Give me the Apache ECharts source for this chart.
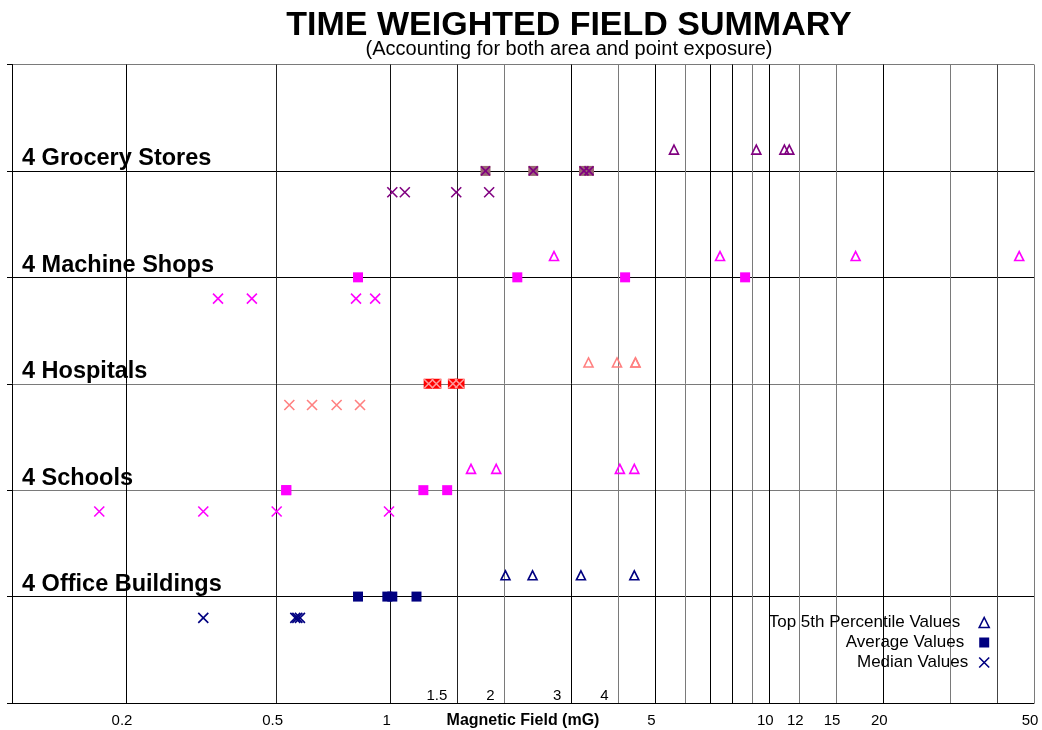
<!DOCTYPE html>
<html>
<head>
<meta charset="utf-8">
<script src="https://cdn.jsdelivr.net/npm/echarts@6/dist/echarts.min.js"></script>
<style>html,body{margin:0;padding:0;background:#fff}#c{width:1042px;height:730px}</style>
</head>
<body>
<div id="c"></div>
<script>
// ---- data ----
const groupNames = ['4 Office Buildings', '4 Schools', '4 Hospitals', '4 Machine Shops', '4 Grocery Stores'];
const top5Office = [2.01, 2.37, 3.18, 4.40];
const top5Schools = [1.63, 1.90, 4.03, 4.40];
const top5Hospitals = [3.33, 3.96, 4.43, 4.43];
const top5Machine = [2.70, 7.41, 16.9, 45.7];
const top5Grocery = [5.60, 9.24, 10.96, 11.29];

const avgOffice = [0.82, 0.98, 1.01, 1.17];
const avgSchools = [0.53, 0.53, 1.22, 1.41];
const avgHospitals = [1.26, 1.32, 1.46, 1.52];
const avgMachine = [0.82, 2.16, 4.16, 8.63];
const avgGrocery = [1.78, 2.38, 3.24, 3.34];

const medOffice = [0.32, 0.56, 0.567, 0.576];
const medSchools = [0.17, 0.32, 0.50, 0.99];
const medHospitals = [0.54, 0.62, 0.72, 0.83];
const medMachine = [0.35, 0.43, 0.81, 0.91];
const medGrocery = [1.01, 1.09, 1.49, 1.82];

const gridLinesX = [0.2, 0.5, 1, 1.5, 2, 3, 4, 5, 6, 7, 8, 9, 10, 12, 15, 20, 30, 40, 50];
const tickLabelsBelow = [0.2, 0.5, 1, 5, 10, 12, 15, 20, 50];
const tickLabelsInside = [1.5, 2, 3, 4];

// ---- styles ----
const top5Groups = [top5Office, top5Schools, top5Hospitals, top5Machine, top5Grocery];
const avgGroups = [avgOffice, avgSchools, avgHospitals, avgMachine, avgGrocery];
const medGroups = [medOffice, medSchools, medHospitals, medMachine, medGrocery];
const triColors = ['#000080', '#FF00FF', '#FF8080', '#FF00FF', '#800080'];
const avgColors = ['#000080', '#FF00FF', '#FF0000', '#FF00FF', '#9A6672'];
const avgOverlay = [null, null, '#FF9A9A', null, '#800080'];
const medColors = ['#000080', '#FF00FF', '#FF8080', '#FF00FF', '#800080'];
const G = '#7a7a7a', K = '#000000';
const gridLineColors = [K, '#222', '#111', '#222', G, K, G, K, G, K, K, G, K, G, G, K, G, '#444', G];
const ySplitColors = [K, K, G, G, K, K, G];
const FONT = '"Liberation Sans", Arial, sans-serif';
const XPATH = 'path://M0,0L10,10M10,0L0,10';

const top5Data = [], avgData = [], avgXData = [], medData = [];
top5Groups.forEach((arr, i) => arr.forEach(v => top5Data.push({value: [v, i + 1.2], itemStyle: {borderColor: triColors[i]}})));
avgGroups.forEach((arr, i) => arr.forEach(v => {
  avgData.push({value: [v, i + 1], itemStyle: {color: avgColors[i]}});
  if (avgOverlay[i]) avgXData.push({value: [v, i + 1], itemStyle: {borderColor: avgOverlay[i]}});
}));
medGroups.forEach((arr, i) => arr.forEach(v => medData.push({value: [v, i + 0.8], itemStyle: {borderColor: medColors[i]}})));

const chart = echarts.init(document.getElementById('c'), null, {renderer: 'canvas'});
chart.setOption({
  animation: false,
  backgroundColor: '#fff',
  textStyle: {fontFamily: FONT},
  title: [
    {text: 'TIME WEIGHTED FIELD SUMMARY', left: 569, top: 9, padding: 0, textAlign: 'center',
     textStyle: {fontSize: 34, fontWeight: 'bold', color: '#000', fontFamily: FONT}},
    {text: '(Accounting for both area and point exposure)', left: 569, top: 39, padding: 0, textAlign: 'center',
     textStyle: {fontSize: 20, fontWeight: 'normal', color: '#000', fontFamily: FONT}}
  ],
  legend: {
    orient: 'vertical', right: 47, top: 609, align: 'right', itemWidth: 10, itemHeight: 10, itemGap: 3,
    selectedMode: false,
    textStyle: {fontSize: 17, color: '#000', fontFamily: FONT, padding: [0, 14, 0, 0]},
    data: [
      {name: 'Top 5th Percentile Values', icon: 'triangle', itemStyle: {color: 'rgba(0,0,0,0)', borderColor: '#000080', borderWidth: 1.6}},
      {name: 'Average Values', icon: 'rect', itemStyle: {color: '#000080', borderWidth: 0}, textStyle: {padding: [0, 10, 0, 0]}},
      {name: 'Median Values', icon: XPATH, itemStyle: {color: 'rgba(0,0,0,0)', borderColor: '#000080', borderWidth: 1.6}, textStyle: {padding: [0, 6, 0, 0]}}
    ]
  },
  grid: {left: 12, right: 8, top: 64.5, bottom: 27, containLabel: false, outerBoundsMode: 'none'},
  xAxis: {
    type: 'log', logBase: 10, min: 0.1, max: 50,
    name: 'Magnetic Field (mG)', nameLocation: 'middle', nameGap: 10,
    nameTextStyle: {fontSize: 16, fontWeight: 'bold', color: '#000', fontFamily: FONT, verticalAlign: 'top'},
    axisLine: {show: true, lineStyle: {color: '#000', width: 1}},
    axisTick: {show: false}, axisLabel: {show: false}, splitLine: {show: false}, minorSplitLine: {show: false}
  },
  yAxis: {
    type: 'value', min: 0, max: 6, interval: 1,
    axisLine: {show: true, lineStyle: {color: '#000', width: 1}},
    axisTick: {show: true, length: 5, lineStyle: {color: '#000'}},
    axisLabel: {
      show: true, inside: true, margin: 10, verticalAlign: 'bottom',
      fontSize: 23.5, fontWeight: 'bold', color: '#000', fontFamily: FONT,
      formatter: v => groupNames[v - 1] || ''
    },
    splitLine: {show: true, lineStyle: {color: ySplitColors, width: 1}}
  },
  series: [
    {
      type: 'scatter', name: 'ticksBelow', silent: true, z: 1, symbolSize: 0.01,
      itemStyle: {opacity: 1},
      data: tickLabelsBelow.map(v => [v, 0]),
      label: {show: true, position: [-4, 10], align: 'center', verticalAlign: 'top', fontSize: 15, color: '#000', opacity: 1, fontFamily: FONT,
              formatter: p => String(p.value[0])},
      markLine: {
        silent: true, symbol: 'none', z: 1, animation: false,
        label: {show: false},
        data: gridLinesX.map((v, i) => ({xAxis: v, lineStyle: {color: gridLineColors[i], width: 1, type: 'solid'}}))
      }
    },
    {
      type: 'scatter', name: 'ticksInside', silent: true, z: 1, symbolSize: 0.01,
      itemStyle: {opacity: 1},
      data: tickLabelsInside.map(v => [v, 0]),
      label: {show: true, position: [-10, 0], align: 'right', verticalAlign: 'bottom', fontSize: 15, color: '#000', opacity: 1, fontFamily: FONT,
              formatter: p => String(p.value[0])}
    },
    {
      type: 'scatter', name: 'Top 5th Percentile Values', silent: true, z: 5,
      symbol: 'triangle', symbolSize: 9,
      itemStyle: {color: 'rgba(0,0,0,0)', borderColor: '#000080', borderWidth: 1.6, opacity: 1},
      data: top5Data
    },
    {
      type: 'scatter', name: 'Average Values', silent: true, z: 5,
      symbol: 'rect', symbolSize: 10,
      itemStyle: {color: '#000080', opacity: 1},
      data: avgData
    },
    {
      type: 'scatter', name: 'avgOverlay', silent: true, z: 6,
      symbol: XPATH, symbolSize: 9,
      itemStyle: {color: 'rgba(0,0,0,0)', borderColor: '#800080', borderWidth: 1.6, opacity: 1},
      data: avgXData
    },
    {
      type: 'scatter', name: 'Median Values', silent: true, z: 5,
      symbol: XPATH, symbolSize: 10,
      itemStyle: {color: 'rgba(0,0,0,0)', borderColor: '#000080', borderWidth: 1.6, opacity: 1},
      data: medData
    }
  ]
});
</script>
</body>
</html>
